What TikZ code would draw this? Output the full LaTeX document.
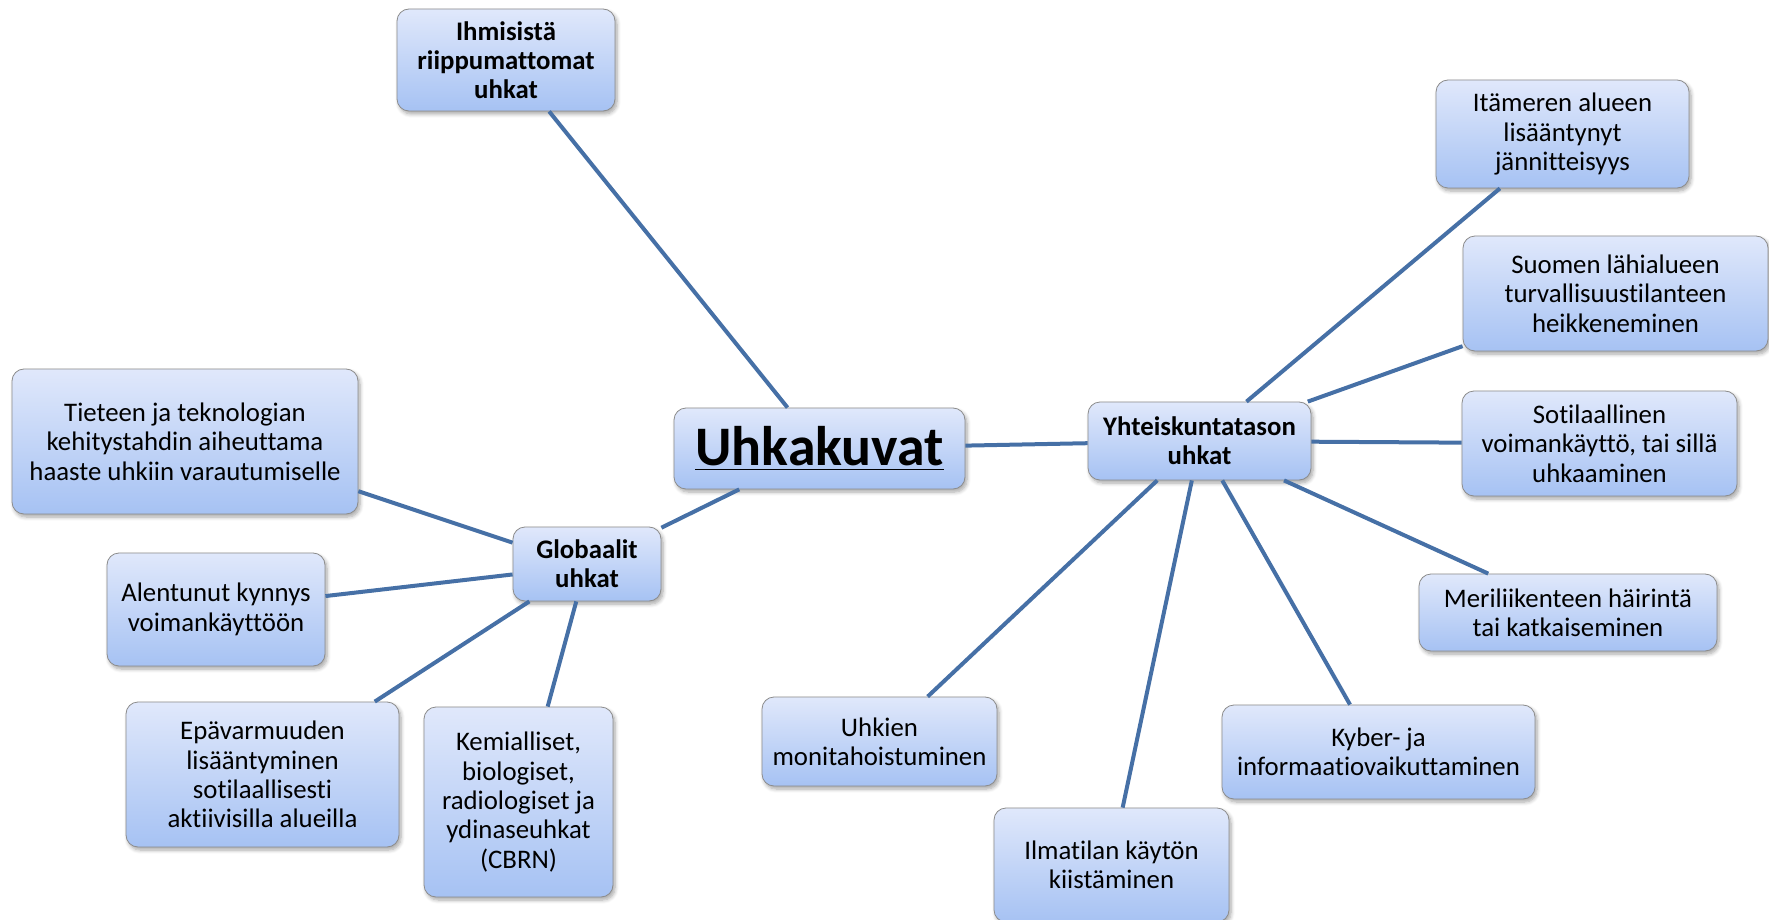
\documentclass[tikz,border=0pt]{standalone}
\usepackage{fontspec}
\setmainfont{Carlito}[Ligatures={NoCommon}]
\usepackage{tikz}
\usetikzlibrary{shadows.blur}
\definecolor{boxtop}{RGB}{224,232,251}
\definecolor{boxbottom}{RGB}{166,194,243}
\definecolor{boxline}{RGB}{140,140,140}
\definecolor{linkblue}{RGB}{70,112,166}
\tikzset{
	threat/.style={
		draw=boxline, rounded corners=6pt,
		top color=boxtop, bottom color=boxbottom,
		align=center, inner sep=2pt, text=black,
		font=\fontsize{13.4}{14.65}\selectfont,
		blur shadow={shadow xshift=1pt, shadow yshift=-1.5pt,
			shadow blur steps=6, shadow opacity=35}
	},
	group/.style={threat, font=\fontsize{13.4}{14.65}\selectfont\bfseries},
	root_node/.style={threat, font=\fontsize{27.9}{32}\selectfont\bfseries},
	link_line/.style={draw=linkblue, line width=2pt}
}

\begin{document}
\begin{tikzpicture}[x=0.5pt, y=-0.5pt]
	\useasboundingbox (0,0) rectangle (1769,920);
	% keskus
	\node[root_node, minimum width=145.5pt, minimum height=40.5pt] (root) at (819.5,448.5) {\underline{Uhkakuvat}};
	\node[group, minimum width=109pt, minimum height=51pt] (ihm) at (506,60) {Ihmisistä\\riippumattomat\\uhkat};
	\node[group, minimum width=111.5pt, minimum height=39pt] (yht) at (1199.5,441) {Yhteiskuntatason\\uhkat};
	\node[group, minimum width=74pt, minimum height=37pt] (glo) at (587,564) {Globaalit\\uhkat};
	% yhteiskuntatason uhkat
	\node[threat, minimum width=126.5pt, minimum height=54pt] (ita) at (1562.5,134) {Itämeren alueen\\lisääntynyt\\jännitteisyys};
	\node[threat, minimum width=152.5pt, minimum height=57.5pt] (suo) at (1615.5,293.5) {Suomen lähialueen\\turvallisuustilanteen\\heikkeneminen};
	\node[threat, minimum width=137.5pt, minimum height=52.5pt] (sot) at (1599.5,443.5) {Sotilaallinen\\voimankäyttö, tai sillä\\uhkaaminen};
	\node[threat, minimum width=149pt, minimum height=38.5pt] (mer) at (1568,612.5) {Meriliikenteen häirintä\\tai katkaiseminen};
	\node[threat, minimum width=156.5pt, minimum height=47pt] (kyb) at (1378.5,752) {Kyber- ja\\informaatiovaikuttaminen};
	\node[threat, minimum width=117.5pt, minimum height=57pt] (ilm) at (1111.5,865) {Ilmatilan käytön\\kiistäminen};
	\node[threat, minimum width=117.5pt, minimum height=44.5pt] (uhk) at (879.5,741.5) {Uhkien\\monitahoistuminen};
	% globaalit uhkat
	\node[threat, minimum width=173pt, minimum height=72.5pt] (tie) at (185,441.5) {Tieteen ja teknologian\\kehitystahdin aiheuttama\\haaste uhkiin varautumiselle};
	\node[threat, minimum width=109pt, minimum height=56.5pt] (ale) at (216,609.5) {Alentunut kynnys\\voimankäyttöön};
	\node[threat, minimum width=136.5pt, minimum height=72.5pt] (epa) at (262.5,774.5) {Epävarmuuden\\lisääntyminen\\sotilaallisesti\\aktiivisilla alueilla};
	\node[threat, minimum width=94.5pt, minimum height=95pt] (kem) at (518.5,802) {Kemialliset,\\biologiset,\\radiologiset ja\\ydinaseuhkat\\(CBRN)};
	% yhteydet
	\draw[link_line] (ihm.-50.5) -- (root.128);
	\draw[link_line] (root) -- (yht);
	\draw[link_line] (root.207) -- (glo.26);
	\draw[link_line] (glo.164) -- (tie.-16.6);
	\draw[link_line] (glo.188.5) -- (ale.7.6);
	\draw[link_line] (glo.213.7) -- (epa.33);
	\draw[link_line] (glo.-106) -- (kem.73.5);
	\draw[link_line] (yht.40.8) -- (ita.221.5);
	\draw[link_line] (yht.20) -- (suo.199.3);
	\draw[link_line] (yht) -- (sot);
	\draw[link_line] (yht.-25.9) -- (mer.154.6);
	\draw[link_line] (yht.-60.2) -- (kyb.121.2);
	\draw[link_line] (yht.-101.7) -- (ilm.79.6);
	\draw[link_line] (yht.223.3) -- (uhk.43.8);
\end{tikzpicture}
\end{document}
